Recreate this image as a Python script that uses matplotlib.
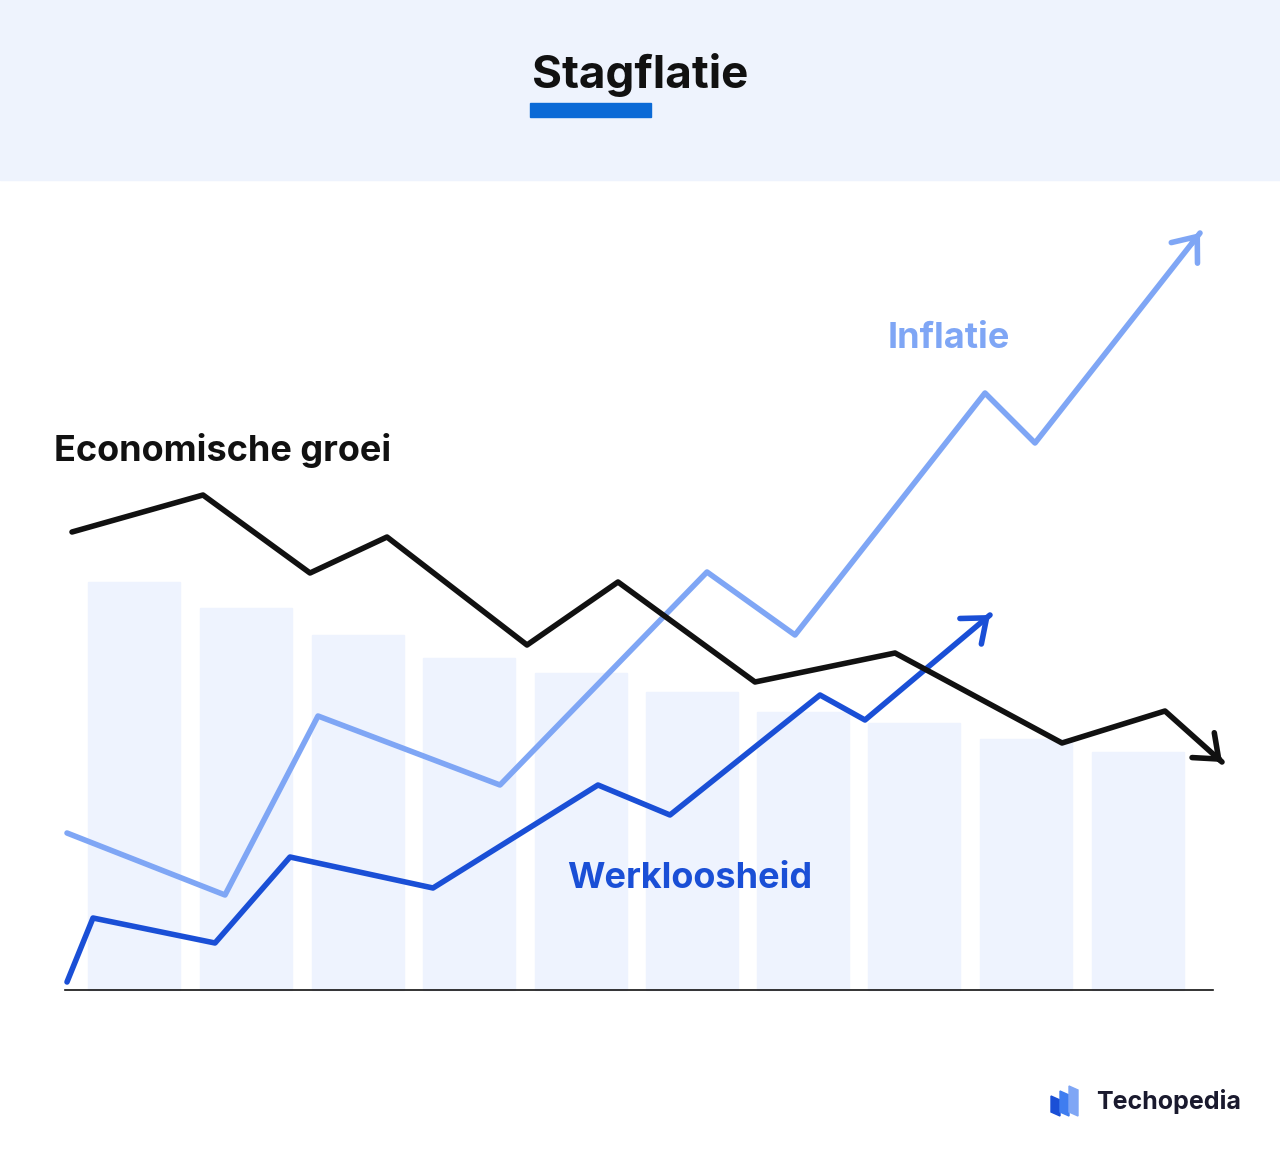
import matplotlib
matplotlib.use("Agg")
import matplotlib.pyplot as plt
from matplotlib.patches import Rectangle, Polygon

# Data (values = height above baseline, x in chart units)
bar_x = [88, 200, 312, 423, 535, 646, 757, 868, 980, 1092]
bar_h = [408, 382, 355, 332, 317, 298, 278, 267, 251, 238]

groei_x = [72, 203, 310, 387, 527, 618, 755, 895, 1062, 1165, 1222]
groei_y = [458, 495, 417, 453, 345, 408, 308, 337, 247, 279, 228]
infl_x = [67, 225, 318, 500, 707, 795, 985, 1035, 1200]
infl_y = [157, 95, 274, 205, 418, 355, 597, 547, 757]
werk_x = [67, 93, 215, 290, 433, 598, 670, 820, 865, 990]
werk_y = [8, 72, 47, 133, 102, 205, 175, 295, 270, 375]

BASE = 990
W, H = 1280, 1149
fig = plt.figure(figsize=(12.8, 11.49), dpi=100)
ax = fig.add_axes([0, 0, 1, 1])
ax.set_xlim(0, W)
ax.set_ylim(-(H - BASE), BASE)
ax.axis("off")
FONT = "Inter"

# header band
ax.add_patch(Rectangle((0, BASE - 180), W, 180, color="#eef3fd", zorder=0))
ax.text(640, BASE - 75, "Stagflatie", ha="center", va="center", fontsize=33,
        fontweight="bold", family=FONT, color="#111111")
ax.add_patch(Rectangle((530, BASE - 117), 121, 14, color="#0b6ad6", zorder=1))

for x, h in zip(bar_x, bar_h):
    ax.add_patch(Rectangle((x, 0), 92, h, color="#eef3fe", zorder=1))
ax.plot([65, 1213], [0, 0], color="#111111", lw=1.2, zorder=2)

def series(xs, ys, color):
    ax.plot(xs, ys, color=color, lw=4, solid_joinstyle="round",
            solid_capstyle="round", zorder=3)
    dx, dy = xs[-1] - xs[-2], ys[-1] - ys[-2]
    ax.annotate("", xy=(xs[-1], ys[-1]), xytext=(xs[-1] - dx * 0.05, ys[-1] - dy * 0.05),
                arrowprops=dict(arrowstyle="->,head_length=0.5,head_width=0.4",
                                color=color, lw=4, mutation_scale=30,
                                shrinkA=0, shrinkB=0,
                                joinstyle="round", capstyle="round"), zorder=4)

series(infl_x, infl_y, "#7fa6f5")
series(werk_x, werk_y, "#1a4fd6")
series(groei_x, groei_y, "#111111")

ax.text(54, BASE - 450, "Economische groei", fontsize=26, fontweight="bold",
        family=FONT, color="#111111", va="center")
ax.text(888, BASE - 338, "Inflatie", fontsize=26, fontweight="bold",
        family=FONT, color="#7fa6f5", va="center")
ax.text(567, BASE - 878, "Werkloosheid", fontsize=26, fontweight="bold",
        family=FONT, color="#1a4fd6", va="center")

# logo
for i, c in enumerate(["#1a4fd6", "#3f7df0", "#7fa6f5"]):
    x0 = 1051 + i * 9
    ax.add_patch(Polygon([(x0, BASE - 1096 + i * 5), (x0 + 9, BASE - 1100 + i * 5),
                          (x0 + 9, BASE - 1116), (x0, BASE - 1112)],
                         color=c, zorder=3))
ax.text(1096, BASE - 1102, "Techopedia", fontsize=18, fontweight="bold",
        family=FONT, color="#1a1a2e", va="center")

fig.savefig("out.png", dpi=100, facecolor="white")
